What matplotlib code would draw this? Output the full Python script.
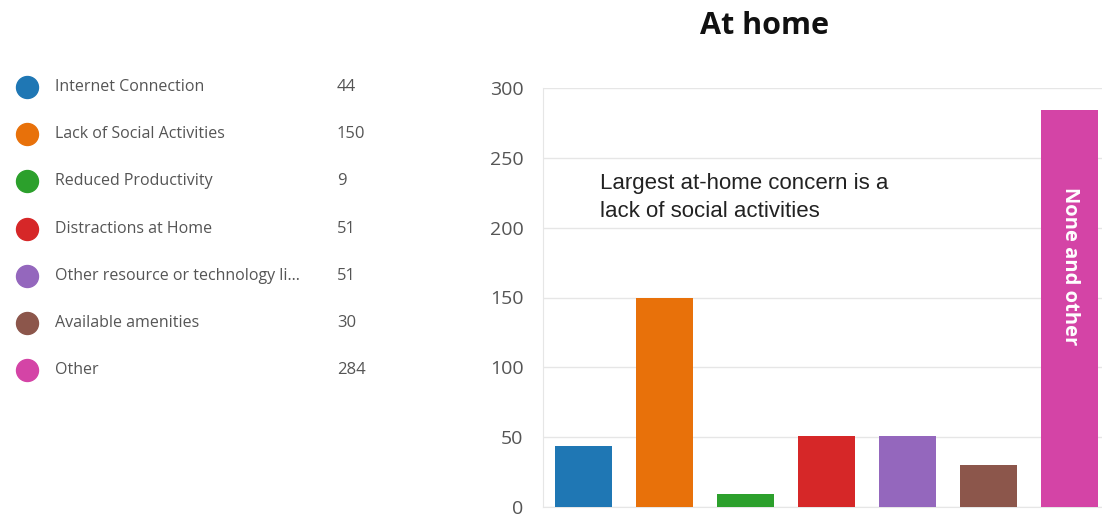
import matplotlib.pyplot as plt
import numpy as np

categories = ['Internet Connection', 'Lack of Social Activities', 'Reduced Productivity',
              'Distractions at Home', 'Other resource or technology li...', 'Available amenities', 'Other']
values = [44, 150, 9, 51, 51, 30, 284]
colors = ['#1f77b4', '#e8710a', '#2ca02c', '#d62728', '#9467bd', '#8c564b', '#d444a6']
yticks = [0, 50, 100, 150, 200, 250, 300]

plt.rcParams['font.family'] = ['Open Sans', 'DejaVu Sans']

fig = plt.figure(figsize=(11.02, 5.17), dpi=100)

# bar chart on the right
ax = fig.add_axes([543 / 1102, 10 / 517, 1 - 543 / 1102, 419 / 517])
x = np.arange(len(values))
ax.bar(x, values, width=0.71, color=colors, zorder=3)
ax.set_xlim(-0.5, 6.4)
ax.set_ylim(0, 300)
ax.set_yticks(yticks)
ax.set_xticks([])
ax.tick_params(axis='y', length=0, pad=14, labelsize=14, labelcolor='#555555')
ax.grid(axis='y', color='#e6e6e6', linewidth=1, zorder=0)
for s in ['top', 'right']:
    ax.spines[s].set_visible(False)
ax.spines['left'].set_color('#e6e6e6')
ax.spines['bottom'].set_color('#e6e6e6')

ax.text(0.2, 239, 'Largest at-home concern is a\nlack of social activities',
        fontsize=16, color='#222222', va='top', ha='left', linespacing=1.45,
        family=['Liberation Sans', 'DejaVu Sans'])
ax.text(x[-1], 229, 'None and other', rotation=270, color='white', fontweight='bold',
        fontsize=14.5, ha='center', va='top')

fig.text(765 / 1102, 1 - 26 / 517, 'At home', fontsize=22, fontweight='bold',
         ha='center', va='center', color='#111111')

# legend list on the left
leg = fig.add_axes([0, 0, 0.45, 1])
leg.set_xlim(0, 0.45 * 1102)
leg.set_ylim(517, 0)
leg.axis('off')
for i, (cat, val, c) in enumerate(zip(categories, values, colors)):
    yy = 87 + i * 47.2
    leg.scatter(27, yy, s=250, color=c)
    leg.text(55, yy, cat, fontsize=11.5, color='#555555', va='center', ha='left')
    leg.text(337, yy, str(val), fontsize=12, color='#555555', va='center', ha='left')

fig.savefig('out.png', dpi=100)
